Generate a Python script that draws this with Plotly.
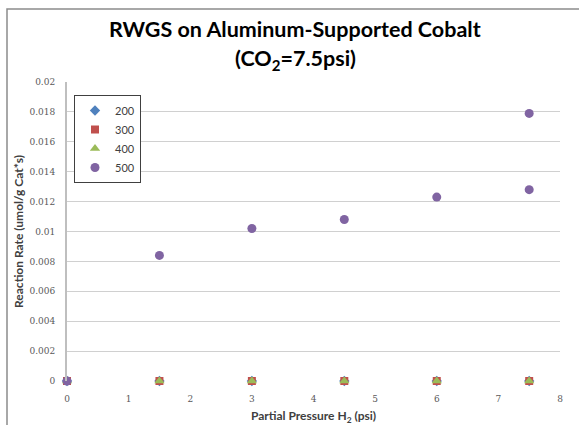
import plotly.graph_objects as go

# Data
pressure_h2 = [0, 1.5, 3, 4.5, 6, 7.5]
rate_200 = [0, 0, 0, 0, 0, 0]
rate_300 = [0, 0, 0, 0, 0, 0]
rate_400 = [0, 0, 0, 0, 0, 0]
pressure_h2_500 = [0, 1.5, 3, 4.5, 6, 7.5, 7.5]
rate_500 = [0, 0.0084, 0.0102, 0.0108, 0.0123, 0.0128, 0.0179]

y_tickvals = [0, 0.002, 0.004, 0.006, 0.008, 0.01, 0.012, 0.014, 0.016, 0.018, 0.02]
y_ticktext = ["0", "0.002", "0.004", "0.006", "0.008", "0.01", "0.012", "0.014", "0.016", "0.018", "0.02"]
x_tickvals = [0, 1, 2, 3, 4, 5, 6, 7, 8]

series = [
    ("200", pressure_h2, rate_200, "#4F81BD", "diamond", 8),
    ("300", pressure_h2, rate_300, "#C0504D", "square", 8),
    ("400", pressure_h2, rate_400, "#9BBB59", "triangle-up", 9),
    ("500", pressure_h2_500, rate_500, "#8064A2", "circle", 9),
]

fig = go.Figure()
for name, xs, ys, color, sym, size in series:
    fig.add_trace(go.Scatter(
        x=xs, y=ys, mode="markers", name=name, legendgroup=name,
        marker=dict(color=color, symbol=sym, size=size, line=dict(width=0)),
        cliponaxis=False,
    ))

tick_font = dict(family="DejaVu Serif", size=9, color="#595959")
axis_title_font = dict(family="Lato", size=12, color="#404040", weight="bold")

L, R, T, B = 67, 560, 82, 381
PW, PH = R - L, B - T


def px_x(x):
    return (x - L) / PW


def px_y(y):
    return (B - y) / PH


fig.update_layout(
    width=579, height=425,
    margin=dict(l=L, r=579 - R, t=T, b=425 - B, autoexpand=False),
    paper_bgcolor="white", plot_bgcolor="white",
    showlegend=True,
    legend=dict(
        x=px_x(74), y=px_y(95), xanchor="left", yanchor="top",
        bordercolor="#404040", borderwidth=1, bgcolor="white",
        font=dict(family="Lato", size=11, color="#404040"),
        traceorder="grouped", tracegroupgap=0, itemwidth=30,
    ),
    xaxis=dict(
        range=[0, 8], tickvals=x_tickvals, showgrid=False, zeroline=False,
        showline=False, ticks="", tickfont=tick_font, ticklabelstandoff=11,
        automargin=False,
        title=dict(text="Partial Pressure H<sub>2</sub> (psi)", font=axis_title_font, standoff=13),
    ),
    yaxis=dict(
        range=[0, 0.02], tickvals=y_tickvals, ticktext=y_ticktext,
        showgrid=True, gridcolor="#D0D0D0", gridwidth=1, zeroline=False,
        showline=True, linecolor="#BFBFBF", linewidth=2, ticks="",
        tickfont=tick_font, ticklabelstandoff=8, automargin=False,
        title=dict(text="Reaction Rate (umol/g Cat*s)", font=axis_title_font, standoff=3),
    ),
    annotations=[
        dict(text="RWGS on Aluminum-Supported Cobalt", x=px_x(295), y=px_y(29),
             xref="paper", yref="paper", showarrow=False, xanchor="center", yanchor="middle",
             font=dict(family="Lato", size=21.5, color="#000000", weight="bold")),
        dict(text="(CO<sub>2</sub>=7.5psi)", x=px_x(295), y=px_y(59),
             xref="paper", yref="paper", showarrow=False, xanchor="center", yanchor="middle",
             font=dict(family="Lato", size=21.5, color="#000000", weight="bold")),
    ],
)

# chart outer border (only top and left edges fall inside the picture)
fig.add_shape(type="rect", xref="paper", yref="paper", layer="above",
              x0=px_x(7), x1=px_x(600), y0=px_y(440), y1=px_y(9),
              line=dict(color="#8C8C8C", width=1.5), fillcolor="rgba(0,0,0,0)")

fig.write_html("out.html", config={"displayModeBar": False},
               post_script="document.body.style.margin='0px';")
